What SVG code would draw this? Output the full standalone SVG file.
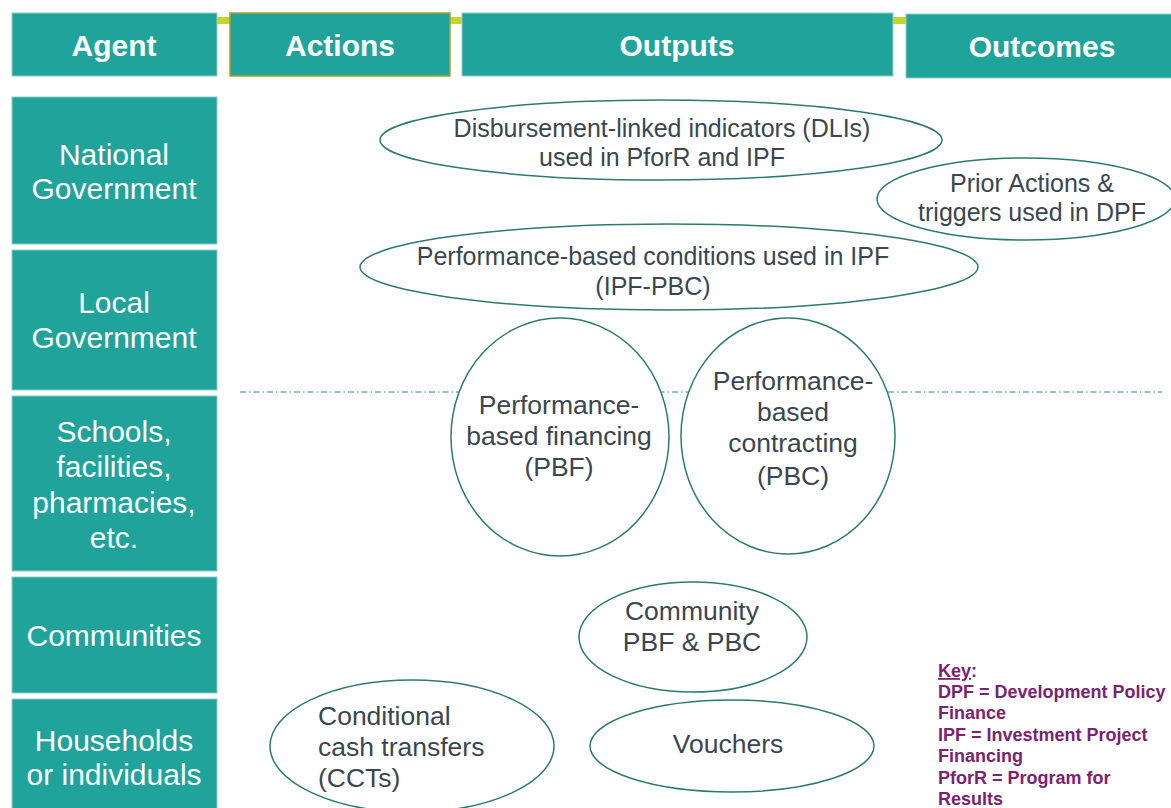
<svg xmlns="http://www.w3.org/2000/svg" width="1171" height="808" viewBox="0 0 1171 808">
<style>
.hdr{fill:#1fa39a;stroke:#8fd0ca;stroke-width:1}
.ht{font-family:"Liberation Sans",Arial,sans-serif;font-weight:bold;font-size:30px;fill:#fff;text-anchor:middle}
.ag{fill:#1fa39a;stroke:#8fd0ca;stroke-width:1}
.at{font-family:"Liberation Sans",Arial,sans-serif;font-size:30px;fill:#fff;text-anchor:middle}
.el{fill:#fff;stroke:#2c7a70;stroke-width:1.5}
.et{font-family:"Liberation Sans",Arial,sans-serif;font-size:25px;fill:#3b4650;text-anchor:middle}
.eb{font-size:26.5px}
.st{text-anchor:start}
.key{font-family:"Liberation Sans",Arial,sans-serif;font-size:18px;font-weight:bold;fill:#7b2271}
</style>
<rect x="0" y="0" width="1171" height="808" fill="#fff"/>
<g id="bar"><rect x="217" y="17" width="700" height="7" fill="#c3d62e"/></g>
<g id="h-agent"><rect class="hdr" x="12" y="13" width="205" height="63"/><text class="ht" x="114" y="56">Agent</text></g>
<g id="h-actions"><rect class="hdr" x="230" y="13" width="220" height="63" style="stroke:#a6a52a;stroke-width:1.5"/><text class="ht" x="340" y="56">Actions</text></g>
<g id="h-outputs"><rect class="hdr" x="462" y="13" width="431" height="63"/><text class="ht" x="677" y="56">Outputs</text></g>
<g id="h-outcomes"><rect class="hdr" x="906" y="14" width="270" height="64"/><text class="ht" x="1042" y="57">Outcomes</text></g>

<g id="a-national"><rect class="ag" x="12" y="97" width="205" height="147"/><text class="at" x="114" y="165">National</text><text class="at" x="114" y="199">Government</text></g>
<g id="a-local"><rect class="ag" x="12" y="250" width="205" height="140"/><text class="at" x="114" y="313">Local</text><text class="at" x="114" y="348">Government</text></g>
<g id="a-schools"><rect class="ag" x="12" y="396" width="205" height="175"/><text class="at" x="114" y="442">Schools,</text><text class="at" x="114" y="477">facilities,</text><text class="at" x="114" y="513">pharmacies,</text><text class="at" x="114" y="548">etc.</text></g>
<g id="a-communities"><rect class="ag" x="12" y="577" width="205" height="116"/><text class="at" x="114" y="646">Communities</text></g>
<g id="a-households"><rect class="ag" x="12" y="699" width="205" height="115"/><text class="at" x="114" y="751">Households</text><text class="at" x="114" y="785">or individuals</text></g>

<g id="connectors"><line x1="240" y1="392" x2="1162" y2="392" stroke="#2c8a80" stroke-width="1" stroke-dasharray="6,3,1.5,3"/></g>

<g id="n-dli"><ellipse class="el" cx="661" cy="140" rx="281" ry="40"/><text class="et" x="662" y="137">Disbursement-linked indicators (DLIs)</text><text class="et" x="662" y="166">used in PforR and IPF</text></g>
<g id="n-prior"><ellipse class="el" cx="1026" cy="199" rx="149" ry="41"/><text class="et" x="1032" y="192">Prior Actions &amp;</text><text class="et" x="1032" y="221">triggers used in DPF</text></g>
<g id="n-ipfpbc"><ellipse class="el" cx="669" cy="267" rx="309" ry="43"/><text class="et" x="653" y="265">Performance-based conditions used in IPF</text><text class="et" x="653" y="295">(IPF-PBC)</text></g>
<g id="n-pbf"><ellipse class="el" cx="560" cy="437" rx="109" ry="119"/><text class="et eb" x="559" y="414">Performance-</text><text class="et eb" x="559" y="445">based financing</text><text class="et eb" x="559" y="476">(PBF)</text></g>
<g id="n-pbc"><ellipse class="el" cx="788" cy="436" rx="107" ry="118"/><text class="et eb" x="793" y="390">Performance-</text><text class="et eb" x="793" y="421">based</text><text class="et eb" x="793" y="452">contracting</text><text class="et eb" x="793" y="485">(PBC)</text></g>
<g id="n-community"><ellipse class="el" cx="693" cy="637" rx="114" ry="55"/><text class="et eb" x="692" y="620">Community</text><text class="et eb" x="692" y="651">PBF &amp; PBC</text></g>
<g id="n-cct"><ellipse class="el" cx="412" cy="746" rx="142" ry="66"/><text class="et eb st" x="318" y="725">Conditional</text><text class="et eb st" x="318" y="756">cash transfers</text><text class="et eb st" x="318" y="787">(CCTs)</text></g>
<g id="n-vouchers"><ellipse class="el" cx="732" cy="746" rx="142" ry="46"/><text class="et eb" x="728" y="753">Vouchers</text></g>

<g id="key">
<text class="key" x="938" y="677"><tspan text-decoration="underline">Key</tspan>:</text>
<text class="key" x="938" y="698">DPF = Development Policy</text>
<text class="key" x="938" y="719">Finance</text>
<text class="key" x="938" y="741">IPF = Investment Project</text>
<text class="key" x="938" y="762">Financing</text>
<text class="key" x="938" y="784">PforR = Program for</text>
<text class="key" x="938" y="805">Results</text>
</g>
</svg>
